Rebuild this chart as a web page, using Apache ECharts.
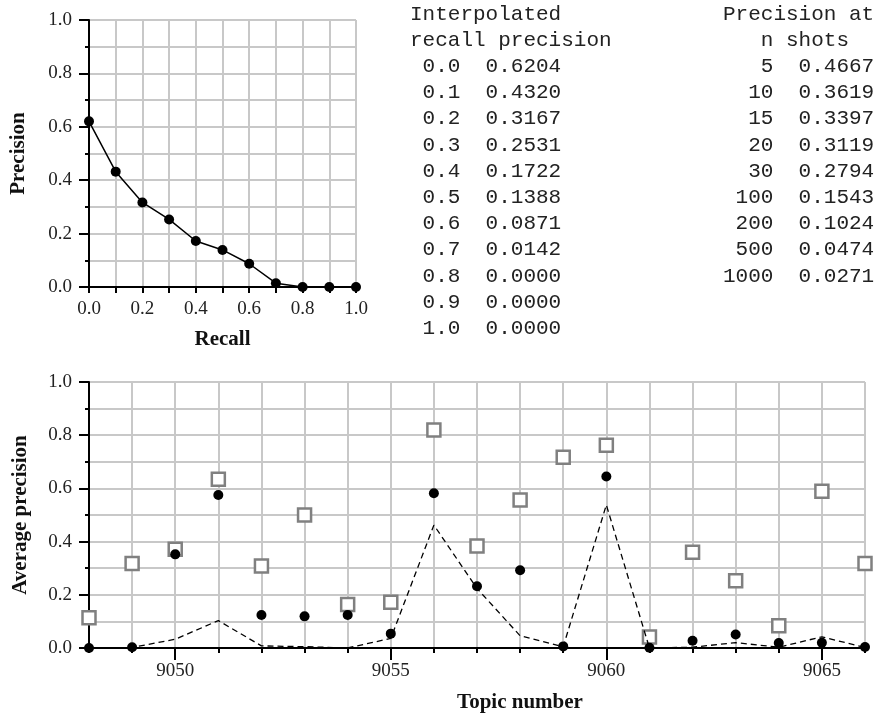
<!DOCTYPE html>
<html>
<head>
<meta charset="utf-8">
<script src="https://cdn.jsdelivr.net/npm/echarts@6/dist/echarts.min.js"></script>
<style>
  html, body { margin: 0; padding: 0; background: #fff; }
  #chart { width: 878px; height: 715px; }
</style>
</head>
<body>
<div id="chart"></div>
<script>
  // interpolated recall-precision (top chart + left table)
  const recallLevels = [0.0, 0.1, 0.2, 0.3, 0.4, 0.5, 0.6, 0.7, 0.8, 0.9, 1.0]
  const interpPrecision = [0.6204, 0.4320, 0.3167, 0.2531, 0.1722, 0.1388, 0.0871, 0.0142, 0.0000, 0.0000, 0.0000]

  // precision at n shots (right table)
  const shotCounts = [5, 10, 15, 20, 30, 100, 200, 500, 1000]
  const shotPrecision = [0.4667, 0.3619, 0.3397, 0.3119, 0.2794, 0.1543, 0.1024, 0.0474, 0.0271]

  // per-topic average precision (bottom chart)
  const topics = ['9048', '9049', '9050', '9051', '9052', '9053', '9054', '9055', '9056', '9057',
    '9058', '9059', '9060', '9061', '9062', '9063', '9064', '9065', '9066']
  const bestAP = [0.114, 0.318, 0.371, 0.634, 0.308, 0.500, 0.164, 0.172, 0.820, 0.383,
    0.556, 0.717, 0.762, 0.041, 0.360, 0.253, 0.084, 0.589, 0.318]
  const runAP = [0.000, 0.003, 0.352, 0.575, 0.124, 0.119, 0.124, 0.054, 0.582, 0.232,
    0.292, 0.006, 0.645, 0.001, 0.027, 0.051, 0.019, 0.020, 0.004]
  const medianAP = [0.000, 0.002, 0.033, 0.103, 0.008, 0.005, 0.000, 0.036, 0.462, 0.224,
    0.046, 0.005, 0.538, 0.000, 0.003, 0.020, 0.003, 0.042, 0.002]

  const serif = '"Liberation Serif", "DejaVu Serif", serif'
  const mono = '"Liberation Mono", "DejaVu Sans Mono", monospace'
  const gridColor = '#c8c8c8'

  const leftTable = ['Interpolated', 'recall precision'].concat(
    recallLevels.map((r, i) => ' ' + r.toFixed(1) + '  ' + interpPrecision[i].toFixed(4))
  )
  const rightTable = ['Precision at', '   n shots'].concat(
    shotCounts.map((n, i) => String(n).padStart(4) + '  ' + shotPrecision[i].toFixed(4))
  )

  const labelStyle = { fontFamily: serif, fontSize: 19, color: '#222' }
  const nameStyle = { fontFamily: serif, fontSize: 21, fontWeight: 'bold', color: '#111' }
  const axisLine = { show: true, lineStyle: { color: '#000', width: 2 } }
  const splitLine = { show: true, lineStyle: { color: gridColor, width: 2 } }

  const valueY = (gridIndex, name, nameGap) => ({
    type: 'value',
    gridIndex,
    min: 0,
    max: 1,
    interval: 0.2,
    name,
    nameLocation: 'middle',
    nameGap,
    nameTextStyle: nameStyle,
    axisLine,
    axisTick: { show: true, length: 10, lineStyle: { color: '#000', width: 2 } },
    minorTick: { show: true, splitNumber: 2, length: 4, lineStyle: { color: '#000', width: 2 } },
    splitLine,
    minorSplitLine: splitLine,
    axisLabel: { ...labelStyle, margin: 17, formatter: v => v.toFixed(1) }
  })

  const chart = echarts.init(document.getElementById('chart'))

  chart.setOption({
    animation: false,
    backgroundColor: '#fff',
    grid: [
      { left: 89, top: 20, width: 267, height: 267 },
      { left: 89, top: 382, right: 13, height: 266 }
    ],
    xAxis: [
      {
        type: 'value',
        gridIndex: 0,
        min: 0,
        max: 1,
        interval: 0.2,
        name: 'Recall',
        nameLocation: 'middle',
        nameGap: 42,
        nameTextStyle: nameStyle,
        axisLine,
        axisTick: { show: true, length: 6, lineStyle: { color: '#000', width: 2 } },
        minorTick: { show: true, splitNumber: 2, length: 6, lineStyle: { color: '#000', width: 2 } },
        splitLine,
        minorSplitLine: splitLine,
        axisLabel: { ...labelStyle, margin: 13, formatter: v => v.toFixed(1) }
      },
      {
        type: 'category',
        gridIndex: 1,
        position: 'bottom',
        data: topics,
        boundaryGap: false,
        name: 'Topic number',
        nameLocation: 'middle',
        nameGap: 44,
        nameTextStyle: { ...nameStyle, padding: [0, 0, 0, 86] },
        axisLine,
        axisTick: { show: true, interval: 0, length: 5, lineStyle: { color: '#000', width: 2 } },
        splitLine: { ...splitLine, interval: 0 },
        axisLabel: {
          ...labelStyle,
          margin: 14,
          interval: 0,
          formatter: v => (Number(v) % 5 === 0 ? v : '')
        }
      },
      {
        // longer ticks at the labelled topics
        type: 'category',
        gridIndex: 1,
        position: 'bottom',
        data: topics,
        boundaryGap: false,
        axisLine: { show: false },
        axisLabel: { show: false },
        splitLine: { show: false },
        axisTick: {
          show: true,
          length: 12,
          interval: (i, v) => Number(v) % 5 === 0,
          lineStyle: { color: '#000', width: 2 }
        }
      }
    ],
    yAxis: [
      valueY(0, 'Precision', 60),
      valueY(1, 'Average precision', 58)
    ],
    graphic: [
      {
        type: 'text',
        left: 410,
        top: 1,
        style: { text: leftTable.join('\n'), fontFamily: mono, fontSize: 21, lineHeight: 26.2, fill: '#222' }
      },
      {
        type: 'text',
        left: 723,
        top: 1,
        style: { text: rightTable.join('\n'), fontFamily: mono, fontSize: 21, lineHeight: 26.2, fill: '#222' }
      }
    ],
    series: [
      {
        type: 'line',
        xAxisIndex: 0,
        yAxisIndex: 0,
        data: recallLevels.map((r, i) => [r, interpPrecision[i]]),
        symbol: 'circle',
        symbolSize: 10,
        itemStyle: { color: '#000' },
        lineStyle: { color: '#000', width: 1.5 }
      },
      {
        type: 'scatter',
        xAxisIndex: 1,
        yAxisIndex: 1,
        data: bestAP,
        symbol: 'rect',
        symbolSize: 13,
        itemStyle: { color: '#fff', borderColor: '#808080', borderWidth: 2.5, opacity: 1 }
      },
      {
        type: 'line',
        xAxisIndex: 1,
        yAxisIndex: 1,
        data: medianAP,
        showSymbol: false,
        lineStyle: { color: '#000', width: 1.3, type: [6, 4] }
      },
      {
        type: 'scatter',
        xAxisIndex: 1,
        yAxisIndex: 1,
        data: runAP,
        symbol: 'circle',
        symbolSize: 10,
        itemStyle: { color: '#000', opacity: 1 }
      }
    ]
  })
</script>
</body>
</html>
